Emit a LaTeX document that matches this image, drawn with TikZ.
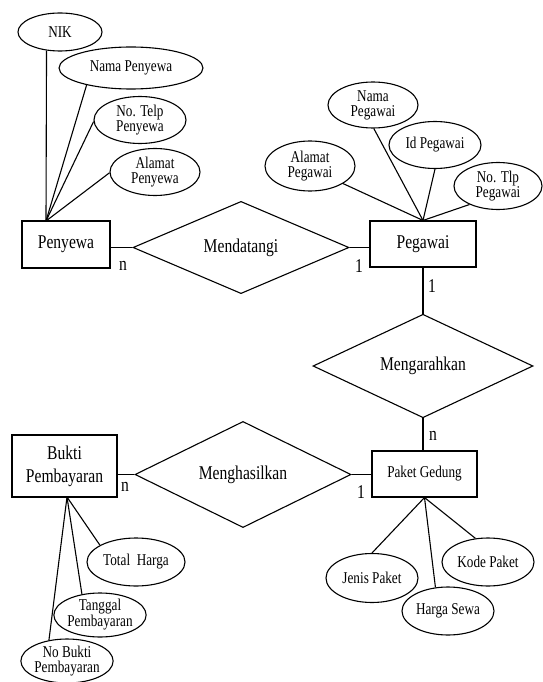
\documentclass[tikz,border=0pt]{standalone}
\usepackage{fontspec}
\setmainfont[FakeStretch=0.8]{Liberation Serif}
\usetikzlibrary{shapes.geometric}
\begin{document}
\begin{tikzpicture}[x=1pt,y=-1pt, line width=1.1pt,
 entity/.style={draw, rectangle, inner sep=0pt, font=\fontsize{19.5}{23}\selectfont, align=center},
 entitysm/.style={entity, font=\fontsize{16.5}{15}\selectfont},
 attr/.style={draw, ellipse, inner sep=0pt, font=\fontsize{16.5}{15}\selectfont, align=center},
 rel/.style={draw, diamond, inner sep=0pt, minimum width=216pt, minimum height=76pt, font=\fontsize{19.5}{23}\selectfont},
 card/.style={font=\fontsize{19.5}{23}\selectfont, inner sep=0pt}]
\useasboundingbox (0,0) rectangle (542,682);

% entities
\node[entity, minimum width=88pt, minimum height=47pt] (Penyewa) at (66,244.5) {Penyewa};
\node[entity, minimum width=106pt, minimum height=46pt] (Pegawai) at (423,244) {Pegawai};
\node[entitysm, minimum width=105pt, minimum height=46pt] (Paket) at (424.5,474) {Paket Gedung};
\node[entity, minimum width=105pt, minimum height=62pt] (Bukti) at (64.5,466) {Bukti\\Pembayaran};

% relationships
\node[rel] (Mendatangi) at (241,247.5) {Mendatangi};
\node[rel, minimum width=220pt] (Mengarahkan) at (423,366) {Mengarahkan};
\node[rel, minimum height=77pt] (Menghasilkan) at (243,474.5) {Menghasilkan};

% attributes of Penyewa
\node[attr, minimum width=84pt, minimum height=38pt] (NIK) at (60,32) {NIK};
\node[attr, minimum width=144pt, minimum height=42pt] (NamaPenyewa) at (131,68) {Nama Penyewa};
\node[attr, minimum width=92pt, minimum height=47pt] (TelpPenyewa) at (140,120) {No. Telp\\Penyewa};
\node[attr, minimum width=90pt, minimum height=47pt] (AlamatPenyewa) at (155,172) {Alamat\\Penyewa};

% attributes of Pegawai
\node[attr, minimum width=90pt, minimum height=46pt] (NamaPegawai) at (373,105) {Nama\\Pegawai};
\node[attr, minimum width=92pt, minimum height=47pt] (IdPegawai) at (435,145) {Id Pegawai};
\node[attr, minimum width=90pt, minimum height=50pt] (AlamatPegawai) at (310,166) {Alamat\\Pegawai};
\node[attr, minimum width=88pt, minimum height=47pt] (TlpPegawai) at (498,186) {No. Tlp\\Pegawai};

% attributes of Paket Gedung
\node[attr, minimum width=92pt, minimum height=49pt] (Jenis) at (372,578) {Jenis Paket};
\node[attr, minimum width=92pt, minimum height=48pt] (Kode) at (488,562) {Kode Paket};
\node[attr, minimum width=92pt, minimum height=48pt] (Harga) at (448,611) {Harga Sewa};

% attributes of Bukti Pembayaran
\node[attr, minimum width=98pt, minimum height=48pt] (Total) at (136,562) {Total\ \ Harga};
\node[attr, minimum width=92pt, minimum height=44pt] (Tanggal) at (100,615) {Tanggal\\Pembayaran};
\node[attr, minimum width=92pt, minimum height=44pt] (NoBukti) at (67,661) {No Bukti\\Pembayaran};

% junction points
\coordinate (pnT) at (46,221);
\coordinate (bkB) at (67,497);

% attribute connectors
\draw (NIK.234) -- (pnT);
\draw (NamaPenyewa.201) -- (pnT);
\draw (TelpPenyewa.182) -- (pnT);
\draw (AlamatPenyewa.181) -- (pnT);

\draw (NamaPegawai.272) -- (Pegawai.north);
\draw (IdPegawai.270) -- (Pegawai.north);
\draw (AlamatPegawai.332) -- (Pegawai.north);
\draw (TlpPegawai.213) -- (Pegawai.north);

\draw (Jenis.90) -- (Paket.south);
\draw (Harga.118) -- (Paket.south);
\draw (Kode.118) -- (Paket.south);

\draw (Total.155) -- (bkB);
\draw (Tanggal.131) -- (bkB);
\draw (NoBukti.131) -- (bkB);

% relationship connectors
\draw (Penyewa.east |- Mendatangi.west) -- (Mendatangi.west);
\draw (Mendatangi.east) -- (Mendatangi.east -| Pegawai.west);
\draw (Pegawai.south) -- (Mengarahkan.north);
\draw (Mengarahkan.south) -- (Mengarahkan.south |- Paket.north);
\draw (Bukti.east |- Menghasilkan.west) -- (Menghasilkan.west);
\draw (Menghasilkan.east) -- (Menghasilkan.east -| Paket.west);

% cardinalities
\node[card] (c1) at (123,266) {n};
\node[card] (c2) at (359,266) {1};
\node[card] (c3) at (432,286) {1};
\node[card] (c4) at (433,436) {n};
\node[card] (c5) at (125,487) {n};
\node[card] (c6) at (361,492) {1};
\end{tikzpicture}
\end{document}
